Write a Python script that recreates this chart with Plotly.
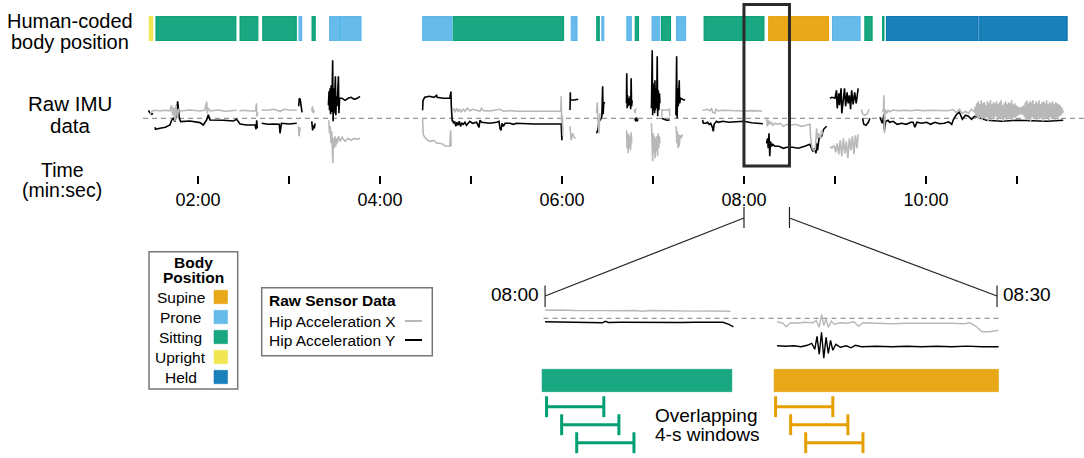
import plotly.graph_objects as go

W, H = 1084, 458
FONT = "Liberation Sans, Arial, Helvetica, sans-serif"

# ------------------------------------------------------------------ data
position_names = ['Supine', 'Prone', 'Sitting', 'Upright', 'Held']
position_colors = ['#E69F00', '#56B4E9', '#009E73', '#F0E442', '#0072B2']

# human-coded body position segments (seconds from start of recording)
seg_start = [87.9, 92.3, 147.7, 162.7, 186.6, 195.2, 206.8, 213.6, 268.1, 288.3,
             366.1, 382.9, 386.3, 402.8, 408.3, 419.4, 425.6, 435.5, 453.7, 496.3,
             538.4, 559.7, 571.4, 573.9, 635.4]
seg_end = [90.1, 145.0, 159.5, 184.8, 188.4, 197.3, 213.6, 227.5, 287.5, 361.1,
           369.9, 384.6, 387.6, 405.7, 410.5, 424.5, 431.6, 441.5, 493.2, 535.7,
           556.6, 564.5, 572.3, 634.4, 693.1]
seg_position = ['Upright', 'Sitting', 'Sitting', 'Sitting', 'Prone', 'Sitting', 'Prone',
                'Prone', 'Prone', 'Sitting', 'Prone', 'Sitting', 'Prone', 'Prone',
                'Sitting', 'Prone', 'Sitting', 'Prone', 'Sitting', 'Supine', 'Prone',
                'Sitting', 'Sitting', 'Held', 'Held']

tick_seconds = [120, 180, 240, 300, 360, 420, 480, 540, 600, 660]
tick_labels = ['02:00', '', '04:00', '', '06:00', '', '08:00', '', '10:00', '']

zoom_window = [480, 510]   # 08:00 - 08:30

# raw hip acceleration (seconds, value); None = gap in recording
hip_x = [
    (88.4, 0.45), (90, 0.75), (92, 0.8), (95, 0.73), (98, 0.8), (101.5, 0.75), (102.6, 1.3),
    (103.3, 0.3), (104, 1.1), (104.8, -0.3), (105.5, 1.3), (106.4, 0.1), (107.2, 0.95),
    (108.6, 0.73), (114.7, 0.83), (121.3, 0.73), (124.5, 0.8), (125.7, 1.67), (126.1, 0.5),
    (126.8, 0.95), (128.5, 0.73), (133, 0.83), (138, 0.7), (143.3, 0.77), (145.5, 0.8), None,
    (147.3, 0.73), (150, 0.8), (155, 0.73), (158.0, 0.75), (158.5, 1.5), (158.9, 0.17), (159.5, 0.6), None,
    (162.0, 0.83), (166, 0.8), (170, 0.9), (174.1, 0.7), (177, 0.9), (181, 0.8), (185.1, 0.83), None,
    (186.2, -0.8), (186.6, -1.8), (187.0, -1.3), (187.5, -0.9), None,
    (195.0, 0.7), (195.5, 1.2), (196.0, 0.5), (196.6, 0.8), None,
    (206.2, -0.2), (206.7, -1.5), (207.2, -0.8), (207.7, -2.5), (208.2, -1.3), (208.6, -3.2),
    (208.9, -4.5), (209.3, -2.0), (209.8, -3.0), (210.3, -1.8), (210.8, -2.8), (211.3, -2.0),
    (211.8, -2.5), (212.6, -1.8), (213.6, -2.3), (215, -1.9), (217, -2.3), (219, -2.0),
    (221, -2.2), (223, -2.0), (225, -2.1), (226.8, -2.0), None,
    (268.1, 0.0), (268.5, -1.6), (269.5, -1.9), (271.5, -2.2), (273.5, -2.3), (275.5, -2.2),
    (277.5, -2.5), (279.5, -2.5), (281.5, -2.6), (283.5, -2.8), (286.0, -2.8), (286.6, -1.2),
    (286.9, -2.8), None,
    (287.9, 0.8), (288.5, 1.0), (289.5, 0.6), (290.5, 1.0), (291.5, 0.65), (292.5, 0.95),
    (293.5, 0.6), (294.9, 0.9), (296, 0.7), (297.5, 1.0), (299.3, 0.75), (301, 0.9),
    (303.7, 0.8), (305.9, 0.7), (307, 1.0), (308.1, 0.77), (312.5, 0.73), (316.9, 0.83),
    (319.1, 0.9), (321.3, 0.7), (325.7, 0.77), (330.1, 0.7), (341.1, 0.73), (352.0, 0.73),
    (359.2, 0.73), (359.5, 2.2), (359.8, -0.5), (360.2, 0.3), (360.6, -1.8), None,
    (365.3, -0.8), (366, -2.2), (367, -1.5), (368, -1.9), (369, -2.0), None,
    (382.8, 0.5), (383.3, 1.6), (383.8, -0.6), (384.4, -1.5), (385, 0.5), None,
    (402.6, -1.2), (402.9, -3.0), (403.2, -1.5), (403.6, -3.5), (404.0, -1.6), (404.4, -3.0),
    (404.8, -1.8), (405.2, -3.2), (405.6, -1.4), (406, -2.5), None,
    (407.7, 0.9), (408.2, 0.5), (408.7, 1.0), None,
    (419.0, -0.5), (419.4, -2.0), (419.8, -4.3), (420.2, -1.5), (420.6, -3.5), (421.0, -1.8),
    (421.4, -4.0), (421.8, -2.0), (422.2, -3.3), (422.6, -1.8), (423.0, -3.8), (423.4, -1.5),
    (423.8, -3.0), (424.2, -1.8), (424.6, -2.5), None,
    (425.7, 0.1), (426.0, 0.85), (428.5, 0.8), (430.8, 0.9), (431.1, 0.2), None,
    (435.3, -0.8), (435.7, -2.5), (436.1, -1.3), (436.5, -3.0), (436.9, -1.6), (437.3, -2.8),
    (437.8, -1.7), (438.5, -2.0), (439.5, -1.6), None,
    (452.7, 0.8), (454.9, 0.83), (456, 0.9), (457.5, 0.75), (458.6, 0.95), (459.5, 0.6),
    (460.8, 0.5), (461.5, 0.9), (463, 0.73), (466, 0.8), (470, 0.77), (475, 0.8), (480, 0.73),
    (485, 0.77), (490.5, 0.73), (492.0, 0.73), None,
    (494.9, 0.1), (495.5, -0.8), (496.2, -0.2), (497, -0.6), (498, -0.4), (499, -0.7),
    (500.4, -0.5), (502, -0.6), (504, -0.5), (506, -0.8), (508, -0.6), (510, -0.7), (514, -0.6),
    (518, -0.8), (521, -0.7), (523.5, -0.6), (524, -2.0), (525, -3.0), (526, -3.2), (527, -3.1),
    (527.9, -1.0), (528.3, -2.0), (529, -1.5), (530.5, -2.0), (531.2, -1.2), (532, -1.6), None,
    (536.7, -2.8), (538, -3.0), (539.5, -2.7), (540.5, -3.4), (541.5, -2.5), (542.5, -3.6),
    (543.5, -2.2), (544.5, -3.8), (545.5, -2.0), (546.5, -3.5), (547.5, -2.3), (548.5, -4.0),
    (549.5, -2.0), (550.5, -3.2), (551.5, -1.8), (552.5, -3.6), (553.5, -1.7), (554.5, -3.0),
    (555.3, -1.6), None,
    (557.5, 0.9), (558.0, 0.5), (559.5, 0.3), (561, 0.4), (562.5, 0.9), None,
    (571.0, 0.7), (572.0, 0.8), (572.3, 2.3), (572.6, -1.5), (573, 0.9), (574, 0.5), (575, 0.8),
    (576, 0.65), (578.4, 0.83), (582, 0.75), (586, 0.8), (590, 0.75), (594, 0.83), (598, 0.75),
    (602, 0.8), (606, 0.78), (610, 0.8), (614, 0.75), (618, 0.85), (620, 0.6), (622, 0.9),
    (624, 0.5), (626, 0.7), (628, 0.5), (630, 0.9),
    (632.0, 0.6), (632.5, 1.2), (633.0, 0.2), (633.5, 1.5), (634.0, 0.0), (634.5, 1.7),
    (635.0, -0.1), (635.5, 1.4), (636.0, 0.1), (636.5, 1.8), (637.0, -0.2), (637.5, 1.5),
    (638.0, 0.0), (638.5, 1.6), (639.0, -0.1), (639.5, 1.3), (640.0, 0.1), (640.5, 1.7),
    (641.0, -0.3), (641.5, 1.5), (642.0, 0.0), (642.5, 1.8), (643.0, -0.2), (643.5, 1.4),
    (644.0, 0.1), (644.5, 1.6), (645.0, -0.1), (645.5, 1.5), (646.0, 0.2), (646.5, 1.7),
    (647.0, -0.2), (647.5, 1.4), (648.0, 0.0), (648.5, 1.6), (649.0, -0.1), (649.5, 1.8),
    (650.0, 0.1), (650.5, 1.3), (651.0, -0.3), (651.5, 1.5), (652.0, 0.0), (652.5, 1.7),
    (653.0, -0.2), (653.5, 1.4), (654.0, 0.1), (654.5, 1.6), (655.0, -0.1), (655.5, 1.5),
    (656.0, 0.0), (656.5, 1.8), (657.0, -0.2), (657.5, 1.4), (658.0, 0.1), (658.5, 1.5),
    (659.0, 0.0), (659.5, 1.3), (660.0, 0.2), (660.5, 1.2), (661.0, 0.3), (661.5, 1.1),
    (662.0, 0.4), (662.5, 1.1), (663.0, 0.4), (663.5, 1.2), (664.0, 0.3), (664.5, 1.3),
    (665.0, 0.1), (665.5, 1.6), (666.0, -0.1), (666.5, 1.8), (667.0, -0.2), (667.5, 1.5),
    (668.0, 0.0), (668.5, 1.7), (669.0, -0.3), (669.5, 1.6), (670.0, 0.1), (670.5, 1.8),
    (671.0, -0.1), (671.5, 1.4), (672.0, 0.0), (672.5, 1.7), (673.0, -0.2), (673.5, 1.5),
    (674.0, 0.1), (674.5, 1.8), (675.0, -0.1), (675.5, 1.4), (676.0, 0.0), (676.5, 1.6),
    (677.0, -0.3), (677.5, 1.7), (678.0, 0.1), (678.5, 1.5), (679.0, -0.1), (679.5, 1.8),
    (680.0, 0.0), (680.5, 1.4), (681.0, -0.2), (681.5, 1.6), (682.0, 0.1), (682.5, 1.5),
    (683.0, -0.1), (683.5, 1.7), (684.0, 0.0), (684.5, 1.4), (685.0, -0.2), (685.5, 1.6),
    (686.0, 0.1), (686.5, 1.5), (687.0, -0.1), (687.5, 1.4), (688.0, 0.2), (688.5, 1.3),
    (689.0, 0.3), (689.5, 1.1), (690.0, 0.5), (690.5, 0.8),
]

hip_y = [
    (87.3, 0.8), (88.2, 0.55), (89.5, 0.4), (90.3, 0.5), None,
    (91.6, -0.9), (92.0, -1.1), (95.0, -1.0), (98.5, -0.9), (101.5, -0.67), (102.6, -0.2),
    (103.7, 0.0), (104.8, -0.33), (105.5, 0.17), (106.4, 1.5), (106.6, 1.7), (107.7, 0.0),
    (108.6, -0.33), (114.7, -0.27), (121.3, -0.43), (123.5, -0.67), (125.7, -0.17),
    (126.8, 0.35), (127.9, -0.17), (136.7, -0.2), (143.3, -0.27), (145.5, -0.1), (147.3, -0.43),
    (147.7, -0.57), (152.1, -0.67), (157.6, -0.67), (158.3, -1.1), (158.7, -0.2), (159.1, -1.0), None,
    (162.0, -0.5), (166.0, -0.6), (170.0, -0.57), (173.6, -0.6), (174.1, -1.5), (174.5, -0.67),
    (175.0, -0.5), (180.0, -0.57), (185.1, -0.5), None,
    (186.4, 1.2), (186.8, 2.0), (187.4, 1.9), (188.0, 1.3), (188.6, 0.6), None,
    (195.0, -0.3), (195.6, -1.2), (196.1, -0.7), (196.7, -1.0), (197.2, -0.5), None,
    (206.0, 1.3), (206.4, 2.7), (206.7, 0.8), (207.1, 3.0), (207.4, 0.4), (207.8, 3.3),
    (208.2, 0.6), (208.5, 3.5), (208.8, 5.8), (209.1, -0.3), (209.4, 3.0), (209.7, 0.5),
    (210.1, 2.5), (210.6, 4.2), (210.9, 0.3), (211.3, 2.2), (211.7, 1.2), (212.1, 2.4),
    (212.6, 4.2), (212.9, 0.5), (213.4, 2.0), (215, 2.0), (217, 1.8), (219, 2.0), (221, 2.1),
    (223, 1.9), (225, 2.0), (226.8, 2.2), None,
    (268.1, 0.8), (268.4, 1.8), (269.5, 2.1), (272.5, 2.2), (275.5, 2.1), (277.3, 2.3),
    (277.6, 2.1), (281.5, 2.0), (286.0, 2.0), (286.8, 2.67), (287.0, 1.3), (287.6, -0.3),
    (287.9, -0.2), (288.5, -0.5), (289.3, -0.3), (290.0, -0.8), (290.7, -0.4), (291.5, -0.7),
    (292.3, -0.3), (293.1, -0.8), (294.0, -0.5), (294.9, -0.6), (296, -0.4), (297, -0.7),
    (298.5, -0.5), (299.3, -0.3), (301, -0.5), (303.7, -0.4), (305.3, -0.9), (305.9, -0.2),
    (307, -0.4), (312.5, -0.5), (316.9, -0.4), (318.5, -0.3), (319.1, -1.0), (319.8, -1.2),
    (320.5, -0.5), (321.3, -0.8), (322.5, -0.5), (325.7, -0.5), (328, -0.6), (330.1, -0.5),
    (341.1, -0.57), (352.0, -0.6), (359.5, -0.57), (359.9, -2.2), (360.3, -0.9), None,
    (365.3, 0.83), (365.5, 2.6), (365.6, 1.83), (368.0, 1.83), (370.7, 1.9), None,
    (382.8, -1.5), (383.5, -1.2), (384.5, -0.3), (385.5, -0.1), (386.3, 0.2), (386.8, 3.2),
    (387.1, 0.4), (387.6, 1.6), (388.3, 1.5), None,
    (402.5, 1.5), (402.7, 4.5), (403.0, 1.0), (403.3, 2.3), (403.7, 1.2), (404.1, 2.0),
    (404.5, 1.3), (404.9, 2.2), (405.3, 0.9), (405.6, 4.0), (405.9, 1.2), (406.3, 1.8), None,
    (408.1, 0.0), (408.6, -0.3), (409.1, 0.1), (409.6, -0.3), (410.1, -0.1), None,
    (419.0, 1.0), (419.3, 3.0), (419.5, 6.8), (419.8, 0.3), (420.1, 3.5), (420.4, 0.8),
    (420.8, 3.2), (421.1, 0.5), (421.3, 3.8), (421.6, 0.8), (422.0, 3.0), (422.4, 1.0),
    (422.8, 6.2), (423.1, 0.2), (423.5, 2.8), (423.9, 0.8), (424.3, 2.5), (424.6, 1.5), None,
    (425.7, 0.0), (427.0, -0.1), (429.0, -0.2), (431.0, -0.17), None,
    (435.1, 0.3), (435.4, 3.5), (435.6, 6.2), (435.9, 0.0), (436.3, 3.0), (436.7, 1.2),
    (437.0, 2.5), (437.3, 3.8), (437.6, 1.5), (438.2, 2.0), (439.5, 1.9), (440.5, 1.8),
    (441.1, 1.8), None,
    (452.7, -0.17), (453.2, -0.5), (454.9, -0.5), (456, -0.4), (457, -0.6), (458, -0.5),
    (459.2, -0.9), (459.8, -1.3), (460.3, -0.6), (461.9, -0.3), (463, -0.4), (466, -0.3),
    (470, -0.4), (475, -0.35), (480, -0.3), (485, -0.45), (490.5, -0.5), (492.5, -0.55), None,
    (494.9, -2.5), (495.5, -2.0), (496, -3.0), (496.5, -1.5), (497, -3.8), (497.5, -2.3),
    (498.2, -2.8), (499, -2.6), (500.4, -2.8), (503, -2.8), (506, -3.0), (508.1, -2.9),
    (512, -2.9), (516, -3.0), (520, -2.8), (523.5, -2.6), (524.5, -3.0), (525.5, -3.3),
    (526.5, -3.0), (527.5, -3.5), (527.9, -2.5), (528.5, -3.2), (529.5, -2.0), (531.2, -1.8),
    (532.5, -1.1), (534.5, -0.8), None,
    (536.7, 2.0), (538, 2.1), (540, 2.0), (541, 2.8), (541.5, 1.0), (542.5, 2.5), (543, 1.3),
    (544, 3.0), (544.5, 0.5), (545.5, 2.2), (546.3, 3.0), (547, 1.2), (548, 2.6), (548.7, 1.5),
    (549.5, 2.3), (550.3, 0.9), (551, 2.8), (552, 1.4), (553, 2.6), (554, 1.5), (555.3, 3.0), None,
    (558.2, 0.0), (559, -0.6), (560.5, -0.7), (562, -0.4), (563, 0.0), None,
    (569.6, 0.1), (570.5, -0.2), (571.2, -0.5), (572.3, 0.4), (572.6, -1.2), (573.5, -0.3),
    (575, -0.2), (576, -0.4), (578.4, -0.3), (581, -0.6), (584, -0.5), (587, -0.6), (590, -0.4),
    (591.5, -0.4), (592.7, -0.9), (594, -0.4), (597, -0.5), (600.4, -0.4), (603, -0.6),
    (606, -0.4), (609, -0.55), (612, -0.5), (615, -0.35), (617, -0.6), (618, -0.15),
    (620.2, 0.4), (622, 0.6), (624, -0.1), (626, 0.3), (628, 0.2), (630, -0.1), (632, 0.2),
    (640, -0.2), (650, -0.3), (660, -0.2), (670, -0.25), (680, -0.3), (690.5, -0.2),
]

# zoomed-in detail of 08:00 - 08:30
detail_hip_x = [
    (480.0, 0.8), (481, 0.83), (482, 0.78), (483, 0.8), (484, 0.77), (485, 0.75), (486, 0.78),
    (486.5, 0.7), (487, 0.78), (488, 0.75), (489, 0.77), (490, 0.72), (491, 0.73), (492.3, 0.7), None,
    (495.4, -0.35), (495.8, -0.5), (496.0, -0.85), (496.3, -0.45), (496.7, -0.5), (497.2, -0.4),
    (497.8, -0.45), (498.0, -0.2), (498.2, -0.9), (498.35, 0.4), (498.5, -0.7), (498.65, -0.1),
    (498.8, -0.9), (499.0, -0.3), (499.2, -0.6), (499.6, -0.45), (500.0, -0.5), (500.5, -0.35),
    (500.8, -0.8), (501.1, -0.45), (502, -0.5), (503, -0.55), (504, -0.5), (505, -0.5),
    (506, -0.45), (507, -0.5), (507.8, -0.55), (508.2, -0.45), (508.6, -0.8), (509, -1.35),
    (509.5, -1.35), (510.1, -1.2),
]
detail_hip_y = [
    (480, -0.35), (481, -0.37), (482, -0.37), (483, -0.4), (483.8, -0.45), (484.0, -0.3),
    (484.2, -0.42), (485, -0.4), (486, -0.42), (487, -0.43), (488, -0.4), (489, -0.42),
    (490, -0.4), (491, -0.37), (491.8, -0.4), (492.2, -0.6), (492.5, -0.85), None,
    (495.4, -2.75), (496, -2.8), (496.5, -2.75), (497, -2.85), (497.4, -2.7), (497.7, -2.5),
    (497.9, -3.1), (498.05, -1.8), (498.2, -3.6), (498.35, -1.4), (498.5, -4.0), (498.65, -1.9),
    (498.8, -3.5), (498.95, -2.2), (499.1, -3.2), (499.3, -2.6), (499.6, -2.9), (500, -2.75),
    (500.3, -2.95), (500.6, -2.7), (501, -2.85), (502, -2.8), (503, -2.85), (504, -2.8),
    (505, -2.85), (506, -2.8), (507, -2.85), (508, -2.78), (509, -2.85), (510.1, -2.85),
]

detail_position = ['Sitting', 'Supine']
detail_start = [479.8, 495.2]
detail_end = [492.4, 510.1]

window_len = 3.8
window_start_sitting = [480.1, 481.1, 482.1]
window_start_supine = [495.3, 496.3, 497.3]
window_row = [1, 2, 3]

# ------------------------------------------------------------------ helpers
color_of = dict(zip(position_names, position_colors))


def rgba(hexc, a):
    h = hexc.lstrip('#')
    return 'rgba(%d,%d,%d,%.2f)' % (int(h[0:2], 16), int(h[2:4], 16), int(h[4:6], 16), a)


def unzip(points):
    xs, ys = [], []
    for p in points:
        if p is None:
            xs.append(None); ys.append(None)
        else:
            xs.append(p[0]); ys.append(p[1])
    return xs, ys


def fx(px):
    return px / W


def fy(py):
    return 1 - py / H


X_DOM = [0.0, 1.0]
X_RANGE = [-10.55, 704.2]
X3_DOM = [fx(530), fx(1010)]
X3_RANGE = [479.0, 510.86]


def to_paper(t, dom, rng):
    return dom[0] + (t - rng[0]) / (rng[1] - rng[0]) * (dom[1] - dom[0])


fig = go.Figure()

# top body-position bars
fig.add_trace(go.Bar(
    base=seg_start, x=[e - s for s, e in zip(seg_start, seg_end)], y=[0] * len(seg_start),
    orientation='h', width=1, xaxis='x', yaxis='y',
    marker=dict(color=[rgba(color_of[p], 0.9) for p in seg_position],
                line=dict(color=[color_of[p] for p in seg_position], width=1)),
    hoverinfo='skip'))

# raw IMU
yx, yv = unzip(hip_y)
fig.add_trace(go.Scatter(x=yx, y=yv, mode='lines', xaxis='x', yaxis='y2',
                         line=dict(color='#000000', width=1.6), hoverinfo='skip'))
xx, xv = unzip(hip_x)
fig.add_trace(go.Scatter(x=xx, y=xv, mode='lines', xaxis='x', yaxis='y2',
                         line=dict(color='#b8b8b8', width=1.6), hoverinfo='skip'))

# detail signals
dxx, dxv = unzip(detail_hip_x)
fig.add_trace(go.Scatter(x=dxx, y=dxv, mode='lines', xaxis='x3', yaxis='y3',
                         line=dict(color='#b8b8b8', width=1.4), hoverinfo='skip'))
dyx, dyv = unzip(detail_hip_y)
fig.add_trace(go.Scatter(x=dyx, y=dyv, mode='lines', xaxis='x3', yaxis='y3',
                         line=dict(color='#000000', width=1.4), hoverinfo='skip'))

# detail bars
fig.add_trace(go.Bar(
    base=detail_start, x=[e - s for s, e in zip(detail_start, detail_end)],
    y=[-0.455] * len(detail_start), orientation='h', width=1.244, xaxis='x3', yaxis='y4',
    marker=dict(color=[rgba(color_of[p], 0.9) for p in detail_position],
                line=dict(color=[rgba(color_of[p], 0.5) for p in detail_position], width=1)),
    hoverinfo='skip'))

# overlapping windows
for starts, pos in [(window_start_sitting, 'Sitting'), (window_start_supine, 'Supine')]:
    wx, wy = [], []
    for s, r in zip(starts, window_row):
        e = s + window_len
        wx += [s, s, None, s, e, None, e, e, None]
        wy += [r - 0.58, r + 0.58, None, r, r, None, r - 0.58, r + 0.58, None]
    fig.add_trace(go.Scatter(x=wx, y=wy, mode='lines', xaxis='x3', yaxis='y4',
                             line=dict(color=color_of[pos], width=3), hoverinfo='skip'))

shapes = []
ann = []

# dashed zero lines
shapes.append(dict(type='line', xref='paper', x0=fx(143), x1=1.0, yref='y2', y0=0, y1=0,
                   line=dict(color='#999999', width=1.3, dash='5px,4px'), layer='below'))
shapes.append(dict(type='line', xref='x3', x0=479.9, x1=510.1, yref='y3', y0=0, y1=0,
                   line=dict(color='#999999', width=1.3, dash='5px,4px'), layer='below'))

# highlight box
shapes.append(dict(type='rect', xref='x', x0=zoom_window[0], x1=zoom_window[1],
                   yref='paper', y0=fy(166), y1=fy(4.5),
                   line=dict(color='#2b2b2b', width=3)))

# zoom connectors
for t in zoom_window:
    shapes.append(dict(type='line', xref='x', x0=t, x1=t, yref='paper', y0=fy(228), y1=fy(207),
                       line=dict(color='#222', width=1.2)))
    shapes.append(dict(type='line', xref='x3', x0=t, x1=t, yref='paper', y0=fy(307), y1=fy(285.5),
                       line=dict(color='#222', width=1.2)))
    shapes.append(dict(type='line', xref='paper', yref='paper',
                       x0=to_paper(t, X_DOM, X_RANGE), y0=fy(218),
                       x1=to_paper(t, X3_DOM, X3_RANGE), y1=fy(296),
                       line=dict(color='#222', width=1.2)))
ann.append(dict(xref='x3', x=zoom_window[0], yref='paper', y=fy(294), text='08:00',
                xanchor='right', yanchor='middle', xshift=-4, showarrow=False,
                font=dict(size=19)))
ann.append(dict(xref='x3', x=zoom_window[1], yref='paper', y=fy(294), text='08:30',
                xanchor='left', yanchor='middle', xshift=4, showarrow=False,
                font=dict(size=19)))

# left row labels
for txt, px, py, sz in [('Human-coded', 70, 21, 20), ('body position', 70, 42, 20),
                        ('Raw IMU', 70, 104, 20.5), ('data', 70, 125, 20.5),
                        ('Time', 62, 170, 19.5), ('(min:sec)', 62, 190, 19.5)]:
    ann.append(dict(xref='paper', yref='paper', x=fx(px), y=fy(py), text=txt,
                    xanchor='center', yanchor='middle', showarrow=False, font=dict(size=sz)))

# overlapping windows text
ann.append(dict(xref='paper', yref='paper', x=fx(653), y=fy(415), text='Overlapping',
                xanchor='left', yanchor='middle', showarrow=False, font=dict(size=19)))
ann.append(dict(xref='paper', yref='paper', x=fx(653), y=fy(434), text='4-s windows',
                xanchor='left', yanchor='middle', showarrow=False, font=dict(size=19)))

# legend 1: body position
shapes.append(dict(type='rect', xref='paper', yref='paper', x0=fx(149), x1=fx(237.7),
                   y0=fy(389), y1=fy(251.7), line=dict(color='#777777', width=1.5)))
ann.append(dict(xref='paper', yref='paper', x=fx(193.3), y=fy(262), text='<b>Body</b>',
                showarrow=False, xanchor='center', yanchor='middle', font=dict(size=15.5)))
ann.append(dict(xref='paper', yref='paper', x=fx(193.3), y=fy(277.5), text='<b>Position</b>',
                showarrow=False, xanchor='center', yanchor='middle', font=dict(size=15.5)))
for i, name in enumerate(position_names):
    py = 297 + i * 20
    ann.append(dict(xref='paper', yref='paper', x=fx(181), y=fy(py), text=name,
                    showarrow=False, xanchor='center', yanchor='middle', font=dict(size=15.5)))
    shapes.append(dict(type='rect', xref='paper', yref='paper', x0=fx(214), x1=fx(227.5),
                       y0=fy(py + 6.7), y1=fy(py - 6.7), fillcolor=rgba(position_colors[i], 0.9),
                       line=dict(color=position_colors[i], width=0.5)))

# legend 2: raw sensor data
shapes.append(dict(type='rect', xref='paper', yref='paper', x0=fx(261.7), x1=fx(432.3),
                   y0=fy(355.7), y1=fy(287.7), line=dict(color='#777777', width=1.5)))
ann.append(dict(xref='paper', yref='paper', x=fx(266.5), y=fy(300), text='<b>Raw Sensor Data</b>',
                showarrow=False, xanchor='left', yanchor='middle', font=dict(size=15.5)))
for txt, py, col in [('Hip Acceleration X', 321, '#b8b8b8'), ('Hip Acceleration Y', 340, '#000000')]:
    ann.append(dict(xref='paper', yref='paper', x=fx(266.5), y=fy(py), text=txt,
                    showarrow=False, xanchor='left', yanchor='middle', font=dict(size=15.5)))
    shapes.append(dict(type='line', xref='paper', yref='paper', x0=fx(405), x1=fx(422),
                       y0=fy(py), y1=fy(py), line=dict(color=col, width=2)))

hidden = dict(visible=False, showgrid=False, zeroline=False)

fig.update_layout(
    width=W, height=H, margin=dict(l=0, r=0, t=0, b=0),
    paper_bgcolor='white', plot_bgcolor='white', showlegend=False, barmode='overlay',
    font=dict(family=FONT, color='#000000', size=16),
    xaxis=dict(domain=X_DOM, range=X_RANGE, anchor='free', position=fy(175),
               showgrid=False, zeroline=False, showline=False,
               ticks='outside', ticklen=8, tickwidth=1.5, tickcolor='#000000',
               tickmode='array', tickvals=tick_seconds, ticktext=tick_labels,
               tickfont=dict(size=18)),
    yaxis=dict(domain=[fy(41), fy(16)], range=[-0.5, 0.5], anchor='x', **hidden),
    yaxis2=dict(domain=[fy(170), fy(45)], range=[-5.17, 7.33], anchor='x', **hidden),
    xaxis3=dict(domain=X3_DOM, range=X3_RANGE, anchor='y3', **hidden),
    yaxis3=dict(domain=[fy(360), fy(290)], range=[-4.17, 2.83], anchor='x3', **hidden),
    yaxis4=dict(domain=[0, fy(360)], range=[3.85, -1.594], anchor='x3', **hidden),
    shapes=shapes, annotations=ann,
)

fig.write_html("out.html", config={'displayModeBar': False},
               post_script="document.body.style.margin='0px';document.body.style.overflow='hidden';")
